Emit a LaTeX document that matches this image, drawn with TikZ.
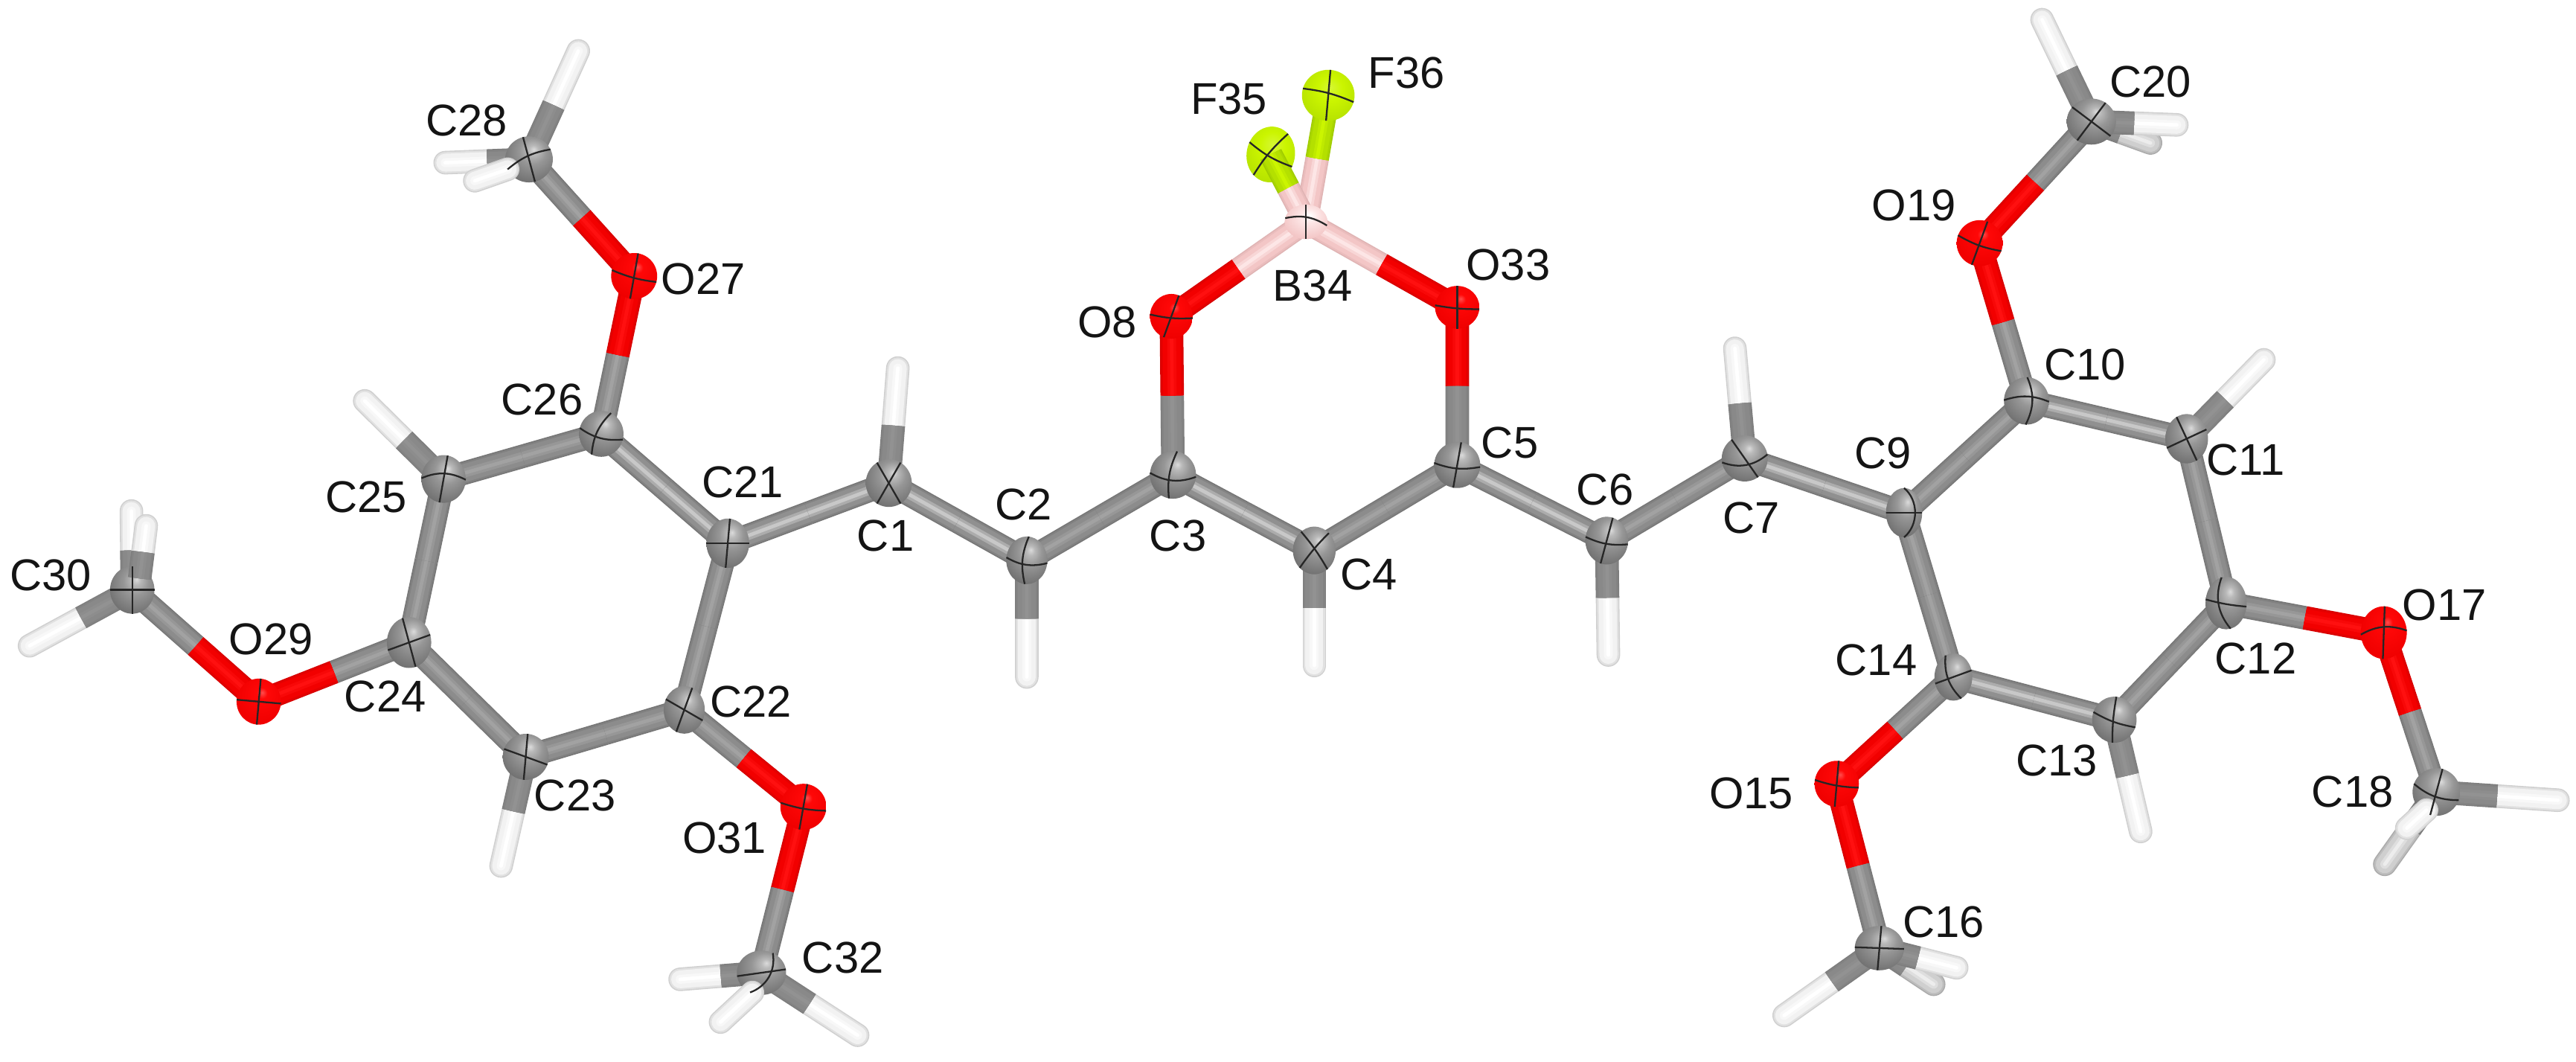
\documentclass[tikz,border=0pt]{standalone}
\usepackage{fontspec}
\setmainfont{Liberation Sans}
\usetikzlibrary{calc,shapes.geometric}
\pgfdeclarelayer{bondlayer}
\pgfsetlayers{bondlayer,main}
\definecolor{Ce}{HTML}{777777}\definecolor{Cm}{HTML}{8C8C8C}\definecolor{Ch}{HTML}{A2A2A2}
\definecolor{Te}{HTML}{767676}\definecolor{Tm}{HTML}{909090}\definecolor{Th}{HTML}{C8C8C8}
\definecolor{Ge}{HTML}{7E7E7E}\definecolor{Gm}{HTML}{898989}\definecolor{Gh}{HTML}{929292}
\definecolor{Oe}{HTML}{D80000}\definecolor{Om}{HTML}{F20000}\definecolor{Oh}{HTML}{FF1010}
\definecolor{Be}{HTML}{E0B4B4}\definecolor{Bm}{HTML}{F3C6C6}\definecolor{Bh}{HTML}{FDE6E6}
\definecolor{Fe}{HTML}{A0CC00}\definecolor{Fm}{HTML}{B4E000}\definecolor{Fh}{HTML}{CBF500}
\definecolor{He}{HTML}{D0D0D0}\definecolor{Hm}{HTML}{F2F2F2}\definecolor{Hh}{HTML}{FFFFFF}
\definecolor{De}{HTML}{ABABAB}\definecolor{Dm}{HTML}{CFCFCF}\definecolor{Dh}{HTML}{EDEDED}
\pgfdeclareradialshading{ballC}{\pgfpoint{5bp}{11bp}}{color(0bp)=(white!72!gray);color(5bp)=(white!45!gray);color(14bp)=(white!18!gray);color(32bp)=(black!12!gray);color(55bp)=(black!38!gray);color(70bp)=(black!45!gray)}
\pgfdeclareradialshading{ballO}{\pgfpoint{4bp}{10bp}}{color(0bp)=(red!70!white);color(6bp)=(red!97!white);color(30bp)=(red!94!black);color(55bp)=(red!60!black);color(70bp)=(red!50!black)}
\pgfdeclareradialshading{ballB}{\pgfpoint{4bp}{10bp}}{color(0bp)=(white);color(10bp)=(Bh);color(30bp)=(Bm);color(55bp)=(Be);color(70bp)=(Be!80!black)}
\pgfdeclareradialshading{ballF}{\pgfpoint{2bp}{8bp}}{color(0bp)=(Fh!80!white);color(12bp)=(Fh);color(32bp)=(Fm);color(55bp)=(Fm!75!black);color(70bp)=(Fm!55!black)}
\tikzset{
  ball/.style={ellipse,inner sep=0pt,outer sep=0pt,shade,shading=ball#1},
  octline/.style={black!85,line width=0.65pt},
  lab/.style={inner sep=0pt,outer sep=0pt,font=\fontsize{17}{20}\selectfont,text=black!92}
}
\newcommand\atm[7]{\node[ball=#4,minimum width=#5*0.04416cm,minimum height=#6*0.04416cm,rotate=#7] (#1) at (#2,#3) {};}
\newcommand\oct[5]{%
  \pgfmathsetmacro\ea{#2+180}\pgfmathsetmacro\eb{#4+180}%
  \draw[octline] (#1.#2) to[bend left=#3] (#1.\ea);
  \draw[octline] (#1.#4) to[bend left=#5] (#1.\eb);
}
\newcommand\tube[4][butt]{%
  \foreach \wd/\cc in {1/#2e,.9/#2e!50!#2m,.76/#2m,.38/#2m!50!#2h,.15/#2h}{%
    \draw[line width=\wd*9pt,color=\cc,line cap=#1] #3 -- #4;}%
}
\newcommand\bond[4]{%
  \tube{#2}{(#1.center)}{($(#1.center)!.5!(#3.center)$)}%
  \tube{#4}{(#3.center)}{($(#1.center)!.5!(#3.center)$)}%
}
\newcommand\hbond[3][H]{%
  \tube[round]{#1}{(#3)}{($(#2.center)!.5!(#3)$)}%
  \tube{G}{(#2.center)}{($(#2.center)!.5!(#3)$)}%
}
\begin{document}
\begin{tikzpicture}[x=0.02208cm,y=-0.02208cm]
\path[use as bounding box] (0,0) rectangle (1568,646);
% atoms
\atm{C1}{541}{294}{C}{14}{14.5}{0}
\atm{C2}{625}{341}{C}{12.5}{14.5}{0}
\atm{C3}{714}{289}{C}{14}{14.5}{0}
\atm{C4}{800}{335}{C}{13}{14.5}{0}
\atm{C5}{887}{283}{C}{14}{14}{0}
\atm{C6}{978}{329}{C}{13}{14.5}{0}
\atm{C7}{1062}{279}{C}{14}{14}{0}
\atm{O8}{713}{192.5}{O}{13}{13.6}{0}
\atm{C9}{1159}{312}{C}{11}{15}{0}
\atm{C10}{1233.5}{244}{C}{13.7}{14.4}{0}
\atm{C11}{1331}{267}{C}{13}{15}{0}
\atm{C12}{1355}{367}{C}{12.5}{16}{0}
\atm{C13}{1287}{438}{C}{13.5}{14}{0}
\atm{C14}{1189}{412}{C}{11.5}{14.4}{0}
\atm{O15}{1118}{477}{O}{13.5}{14}{0}
\atm{C16}{1144}{577}{C}{15}{13.5}{0}
\atm{O17}{1451}{385}{O}{14}{16}{0}
\atm{C18}{1483}{482}{C}{14.5}{14.5}{0}
\atm{O19}{1205}{148}{O}{14}{14}{0}
\atm{C20}{1273}{74}{C}{15}{14}{0}
\atm{C21}{443}{330.6}{C}{13}{15}{0}
\atm{C22}{416.5}{432}{C}{12.5}{14.5}{0}
\atm{C23}{320}{460.6}{C}{14}{14}{0}
\atm{C24}{249}{391}{C}{13.5}{15.5}{0}
\atm{C25}{270}{291.5}{C}{13.5}{14.5}{0}
\atm{C26}{366}{264}{C}{13.5}{14}{0}
\atm{O27}{386}{168}{O}{14}{14}{0}
\atm{C28}{322}{97}{C}{14.5}{14}{0}
\atm{O29}{157.5}{427}{O}{13.5}{14}{0}
\atm{C30}{80.5}{359}{C}{13.5}{14.5}{0}
\atm{O31}{489}{491}{O}{14}{14}{0}
\atm{C32}{463.5}{592}{C}{15}{13.5}{0}
\atm{O33}{887}{187}{O}{13.5}{13}{0}
\atm{B34}{795}{135}{B}{13}{10.5}{0}
\atm{F35}{773.5}{94}{F}{14.7}{17}{-10}
\atm{F36}{808.5}{58}{F}{16}{15.5}{0}
% hydrogen ends
\coordinate (H1) at (546.5,224);
\coordinate (H2) at (625,412);
\coordinate (H4) at (800,405);
\coordinate (H6) at (979,398.6);
\coordinate (H7) at (1056,212);
\coordinate (H11) at (1378,219);
\coordinate (H13) at (1303,506);
\coordinate (H23) at (305,527);
\coordinate (H25) at (222,244);
\coordinate (H20a) at (1243,12);
\coordinate (H20b) at (1325,76);
\coordinate (H20c) at (1309,87);
\coordinate (H16a) at (1086,618);
\coordinate (H16b) at (1191,589);
\coordinate (H16c) at (1177,599);
\coordinate (H32a) at (414,596);
\coordinate (H32b) at (522,630);
\coordinate (H32c) at (438.6,622);
\coordinate (H32s) at (458,604);
\coordinate (H28a) at (352,31);
\coordinate (H28b) at (271,99);
\coordinate (H28c) at (289,110);
\coordinate (H28s) at (309,103);
\coordinate (H30a) at (18,393);
\coordinate (H30b) at (80,311);
\coordinate (H30c) at (89,320);
\coordinate (H30s) at (85,352);
\coordinate (H18a) at (1557,487);
\coordinate (H18b) at (1451.6,526);
\coordinate (H18c) at (1465,504);
\coordinate (H18s) at (1477,493);
\begin{pgfonlayer}{bondlayer}
\fill[white] (0,0) rectangle (1568,646);
\hbond{C1}{H1}\hbond{C2}{H2}\hbond{C4}{H4}\hbond{C6}{H6}\hbond{C7}{H7}
\hbond{C11}{H11}\hbond{C13}{H13}\hbond{C23}{H23}\hbond{C25}{H25}
\hbond[D]{C20}{H20c}\hbond{C20}{H20a}\hbond{C20}{H20b}
\hbond[D]{C16}{H16c}\hbond{C16}{H16a}\hbond{C16}{H16b}
\hbond{C32}{H32a}\hbond{C32}{H32b}
\hbond{C28}{H28a}\hbond{C28}{H28b}
\hbond{C30}{H30a}\hbond{C30}{H30b}
\hbond{C18}{H18a}\hbond[D]{C18}{H18b}
\bond{C21}{T}{C1}{T}\bond{C1}{T}{C2}{T}\bond{C2}{C}{C3}{C}\bond{C3}{T}{C4}{T}
\bond{C4}{C}{C5}{C}\bond{C5}{T}{C6}{T}\bond{C6}{C}{C7}{C}\bond{C7}{T}{C9}{T}
\bond{C3}{G}{O8}{O}\bond{O8}{O}{B34}{B}\bond{B34}{B}{O33}{O}\bond{O33}{O}{C5}{G}
\bond{B34}{B}{F36}{F}
\bond{C9}{C}{C10}{C}\bond{C10}{T}{C11}{T}\bond{C11}{C}{C12}{C}
\bond{C12}{C}{C13}{C}\bond{C13}{T}{C14}{T}\bond{C14}{C}{C9}{C}
\bond{C14}{C}{O15}{O}\bond{O15}{O}{C16}{C}
\bond{C12}{C}{O17}{O}\bond{O17}{O}{C18}{C}
\bond{C10}{C}{O19}{O}\bond{O19}{O}{C20}{C}
\bond{C21}{C}{C22}{C}\bond{C22}{C}{C23}{C}\bond{C23}{C}{C24}{C}
\bond{C24}{C}{C25}{C}\bond{C25}{C}{C26}{C}\bond{C26}{T}{C21}{T}
\bond{C26}{C}{O27}{O}\bond{O27}{O}{C28}{C}
\bond{C24}{C}{O29}{O}\bond{O29}{O}{C30}{C}
\bond{C22}{C}{O31}{O}\bond{O31}{O}{C32}{C}
\end{pgfonlayer}
% bonds that pass in front of their atom
\bond{F35}{F}{B34}{B}
\node[ball=B,minimum width=26*0.02208cm,minimum height=21*0.02208cm] (B34top) at (B34) {};
\tube[round]{H}{(H28s)}{(H28c)}
\tube[round]{H}{(H32s)}{(H32c)}
\tube[round]{H}{(H18s)}{(H18c)}
\tube[round]{H}{(H30c)}{($(H30s)!.5!(H30c)$)}
\tube{G}{(H30s)}{($(H30s)!.5!(H30c)$)}
% principal-ellipse lines
\oct{C1}{120}{0}{60}{0}
\oct{C2}{172}{-22}{85}{-18}
\oct{C3}{175}{-25}{80}{-15}
\oct{C4}{125}{5}{50}{-5}
\oct{C5}{175}{-15}{80}{0}
\oct{C6}{170}{-15}{75}{0}
\oct{C7}{125}{0}{190}{-30}
\oct{O8}{175}{-8}{70}{0}
\oct{C9}{180}{0}{90}{50}
\oct{C10}{178}{20}{88}{25}
\oct{C11}{205}{0}{115}{0}
\oct{C12}{170}{-5}{100}{-30}
\oct{C13}{160}{-10}{85}{-5}
\oct{C14}{200}{0}{110}{-25}
\oct{O15}{170}{-8}{85}{0}
\oct{C16}{178}{0}{85}{0}
\oct{O17}{185}{25}{88}{0}
\oct{C18}{160}{-20}{75}{0}
\oct{O19}{160}{-10}{70}{0}
\oct{C20}{143}{0}{53}{0}
\oct{C21}{180}{0}{85}{0}
\oct{C22}{150}{0}{70}{0}
\oct{C23}{160}{0}{85}{0}
\oct{C24}{200}{0}{105}{0}
\oct{C25}{178}{25}{80}{0}
\oct{C26}{165}{-20}{65}{-20}
\oct{O27}{165}{-8}{80}{0}
\oct{C28}{105}{0}{25}{-15}
\oct{O29}{175}{0}{85}{0}
\oct{C30}{180}{0}{90}{0}
\oct{O31}{170}{-8}{80}{0}
\oct{C32}{188}{0}{60}{40}
\oct{O33}{175}{-5}{90}{0}
\oct{B34}{170}{22}{90}{0}
\oct{F35}{60}{-8}{160}{-10}
\oct{F36}{165}{8}{85}{0}
% labels
\node[lab] (LC1) at (539,326) {C1};
\node[lab] (LC2) at (623,307) {C2};
\node[lab] (LC3) at (717,326) {C3};
\node[lab] (LC4) at (833,349.5) {C4};
\node[lab] (LC5) at (919,269.5) {C5};
\node[lab] (LC6) at (977,298) {C6};
\node[lab] (LC7) at (1066,315) {C7};
\node[lab] (LO8) at (674,196) {O8};
\node[lab] (LC9) at (1146,276) {C9};
\node[lab] (LC10) at (1269,222) {C10};
\node[lab] (LC11) at (1367,280) {C11};
\node[lab] (LC12) at (1373,401) {C12};
\node[lab] (LC13) at (1252,463) {C13};
\node[lab] (LC14) at (1142,401.5) {C14};
\node[lab] (LO15) at (1066,483) {O15};
\node[lab] (LC16) at (1183,561) {C16};
\node[lab] (LO17) at (1488,368) {O17};
\node[lab] (LC18) at (1432,482) {C18};
\node[lab] (LO19) at (1165,125) {O19};
\node[lab] (LC20) at (1309,50) {C20};
\node[lab] (LC21) at (452,293.5) {C21};
\node[lab] (LC22) at (457,427) {C22};
\node[lab] (LC23) at (350,484) {C23};
\node[lab] (LC24) at (234.5,424) {C24};
\node[lab] (LC25) at (223,302.5) {C25};
\node[lab] (LC26) at (330,243) {C26};
\node[lab] (LO27) at (428,170) {O27};
\node[lab] (LC28) at (284,73.5) {C28};
\node[lab] (LO29) at (165,389) {O29};
\node[lab] (LC30) at (31,350) {C30};
\node[lab] (LO31) at (441,510) {O31};
\node[lab] (LC32) at (513,583) {C32};
\node[lab] (LO33) at (918,161) {O33};
\node[lab] (LB34) at (799,174) {B34};
\node[lab] (LF35) at (748,60) {F35};
\node[lab] (LF36) at (856,44.5) {F36};
\end{tikzpicture}
\end{document}
